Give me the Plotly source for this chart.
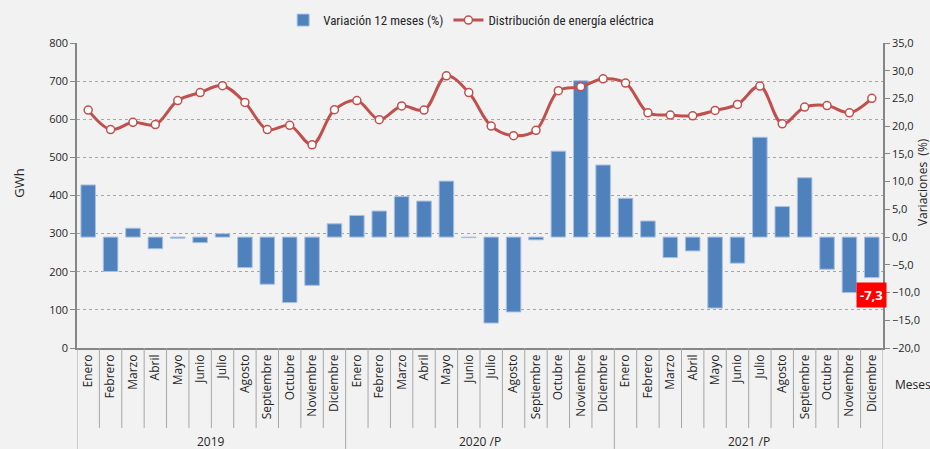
import plotly.graph_objects as go

meses = ["Enero", "Febrero", "Marzo", "Abril", "Mayo", "Junio", "Julio",
         "Agosto", "Septiembre", "Octubre", "Noviembre", "Diciembre"]
anios = ["2019", "2020 /P", "2021 /P"]

variacion_2019 = [9.4, -6.2, 1.6, -2.1, -0.2, -1.0, 0.6, -5.5, -8.5, -11.8, -8.7, 2.4]
variacion_2020 = [3.9, 4.7, 7.3, 6.5, 10.1, -0.1, -15.5, -13.5, -0.5, 15.5, 28.2, 13.0]
variacion_2021 = [7.0, 2.9, -3.7, -2.5, -12.8, -4.7, 18.0, 5.5, 10.7, -5.8, -10.0, -7.3]

energia_2019 = [624, 573, 592, 586, 649, 670, 688, 644, 573, 584, 533, 625]
energia_2020 = [649, 599, 635, 624, 714, 670, 582, 557, 571, 675, 685, 706]
energia_2021 = [695, 617, 611, 609, 623, 639, 687, 588, 632, 636, 617, 655]

variacion = variacion_2019 + variacion_2020 + variacion_2021
energia = energia_2019 + energia_2020 + energia_2021
etiquetas = meses * len(anios)
idx = list(range(len(etiquetas)))

FONT = "Open Sans, Noto Sans, sans-serif"
NARROW = "Liberation Sans Narrow, Arial Narrow, Roboto Condensed, Roboto, sans-serif"
TXT = "#262626"
AX = "#868686"

fig = go.Figure()
fig.add_trace(go.Bar(
    x=idx, y=variacion, name="Variación 12 meses (%)", yaxis="y",
    marker=dict(color="#4f81bd", line=dict(color="#a9c1e3", width=1)),
))
fig.add_trace(go.Scatter(
    x=idx, y=energia, name="Distribución de energía eléctrica", yaxis="y2",
    mode="lines+markers",
    line=dict(color="#c0504d", width=3, shape="spline", smoothing=1.0),
    marker=dict(symbol="circle", size=8, color="white",
                line=dict(color="#c0504d", width=1.5)),
))

shapes = []
n = len(etiquetas)
for i in range(n + 1):
    yb = -0.331 if i % 12 == 0 else -0.262
    shapes.append(dict(type="line", xref="x", yref="paper",
                       x0=i - 0.5, x1=i - 0.5, y0=0, y1=yb,
                       line=dict(color="#a6a6a6", width=1)))

annotations = []
for k, a in enumerate(anios):
    annotations.append(dict(x=k * 12 + 5.5, y=-0.305, xref="x", yref="paper",
                            text=a, showarrow=False, yanchor="middle",
                            font=dict(family=FONT, size=12, color=TXT)))
annotations.append(dict(x=1.013, y=-0.121, xref="paper", yref="paper",
                        text="Meses", showarrow=False, xanchor="left",
                        yanchor="middle", font=dict(family=FONT, size=12, color=TXT)))
annotations.append(dict(x=-0.0724, y=0.541, xref="paper", yref="paper",
                        text="GWh", showarrow=False, textangle=-90,
                        xanchor="center", yanchor="middle",
                        font=dict(family=FONT, size=13, color=TXT)))
annotations.append(dict(x=1.0488, y=0.545, xref="paper", yref="paper",
                        text="Variaciones  (%)", showarrow=False, textangle=-90,
                        xanchor="center", yanchor="middle", borderpad=0,
                        font=dict(family=FONT, size=12, color=TXT)))
annotations.append(dict(x=idx[-1], y=variacion[-1], xref="x", yref="y",
                        text="<b>-7,3</b>", showarrow=False, yanchor="top",
                        yshift=-4, bgcolor="#ff0000", borderpad=3,
                        font=dict(family=FONT, size=13, color="white")))

fig.update_layout(
    width=930, height=449,
    margin=dict(l=77, r=47, t=43, b=101, autoexpand=False),
    paper_bgcolor="#f2f2f2", plot_bgcolor="#f2f2f2",
    separators=",.",
    bargap=0.35,
    showlegend=True,
    legend=dict(orientation="h", x=0.489, xanchor="center", y=1.075,
                yanchor="middle", bgcolor="rgba(0,0,0,0)",
                font=dict(family=NARROW, size=13, color=TXT)),
    xaxis=dict(range=[-0.5, n - 0.5], tickmode="array", tickvals=idx,
               ticktext=etiquetas, tickangle=-90, showgrid=False,
               zeroline=False, showline=True, linecolor=AX, linewidth=1.5,
               ticks="", automargin=False,
               tickfont=dict(family=FONT, size=12, color=TXT)),
    yaxis=dict(side="right", range=[-20, 35], dtick=5, tickformat=".1f",
               showgrid=False, zeroline=False, showline=True, linecolor=AX,
               linewidth=1.5, ticks="outside", ticklen=5, tickcolor=AX,
               automargin=False,
               tickfont=dict(family=FONT, size=11, color=TXT)),
    yaxis2=dict(overlaying="y", side="left", range=[0, 800], dtick=100,
                showgrid=True, gridcolor="#a6a6a6", griddash="dot", gridwidth=1,
                zeroline=False, showline=True, linecolor=AX, linewidth=1.5,
                ticks="outside", ticklen=5, tickcolor=AX, automargin=False,
                tickfont=dict(family=FONT, size=11, color=TXT)),
    shapes=shapes,
    annotations=annotations,
)

fig.write_html(
    "out.html",
    config={"displayModeBar": False},
    post_script="document.body.style.margin='0';document.body.style.overflow='hidden';",
)
